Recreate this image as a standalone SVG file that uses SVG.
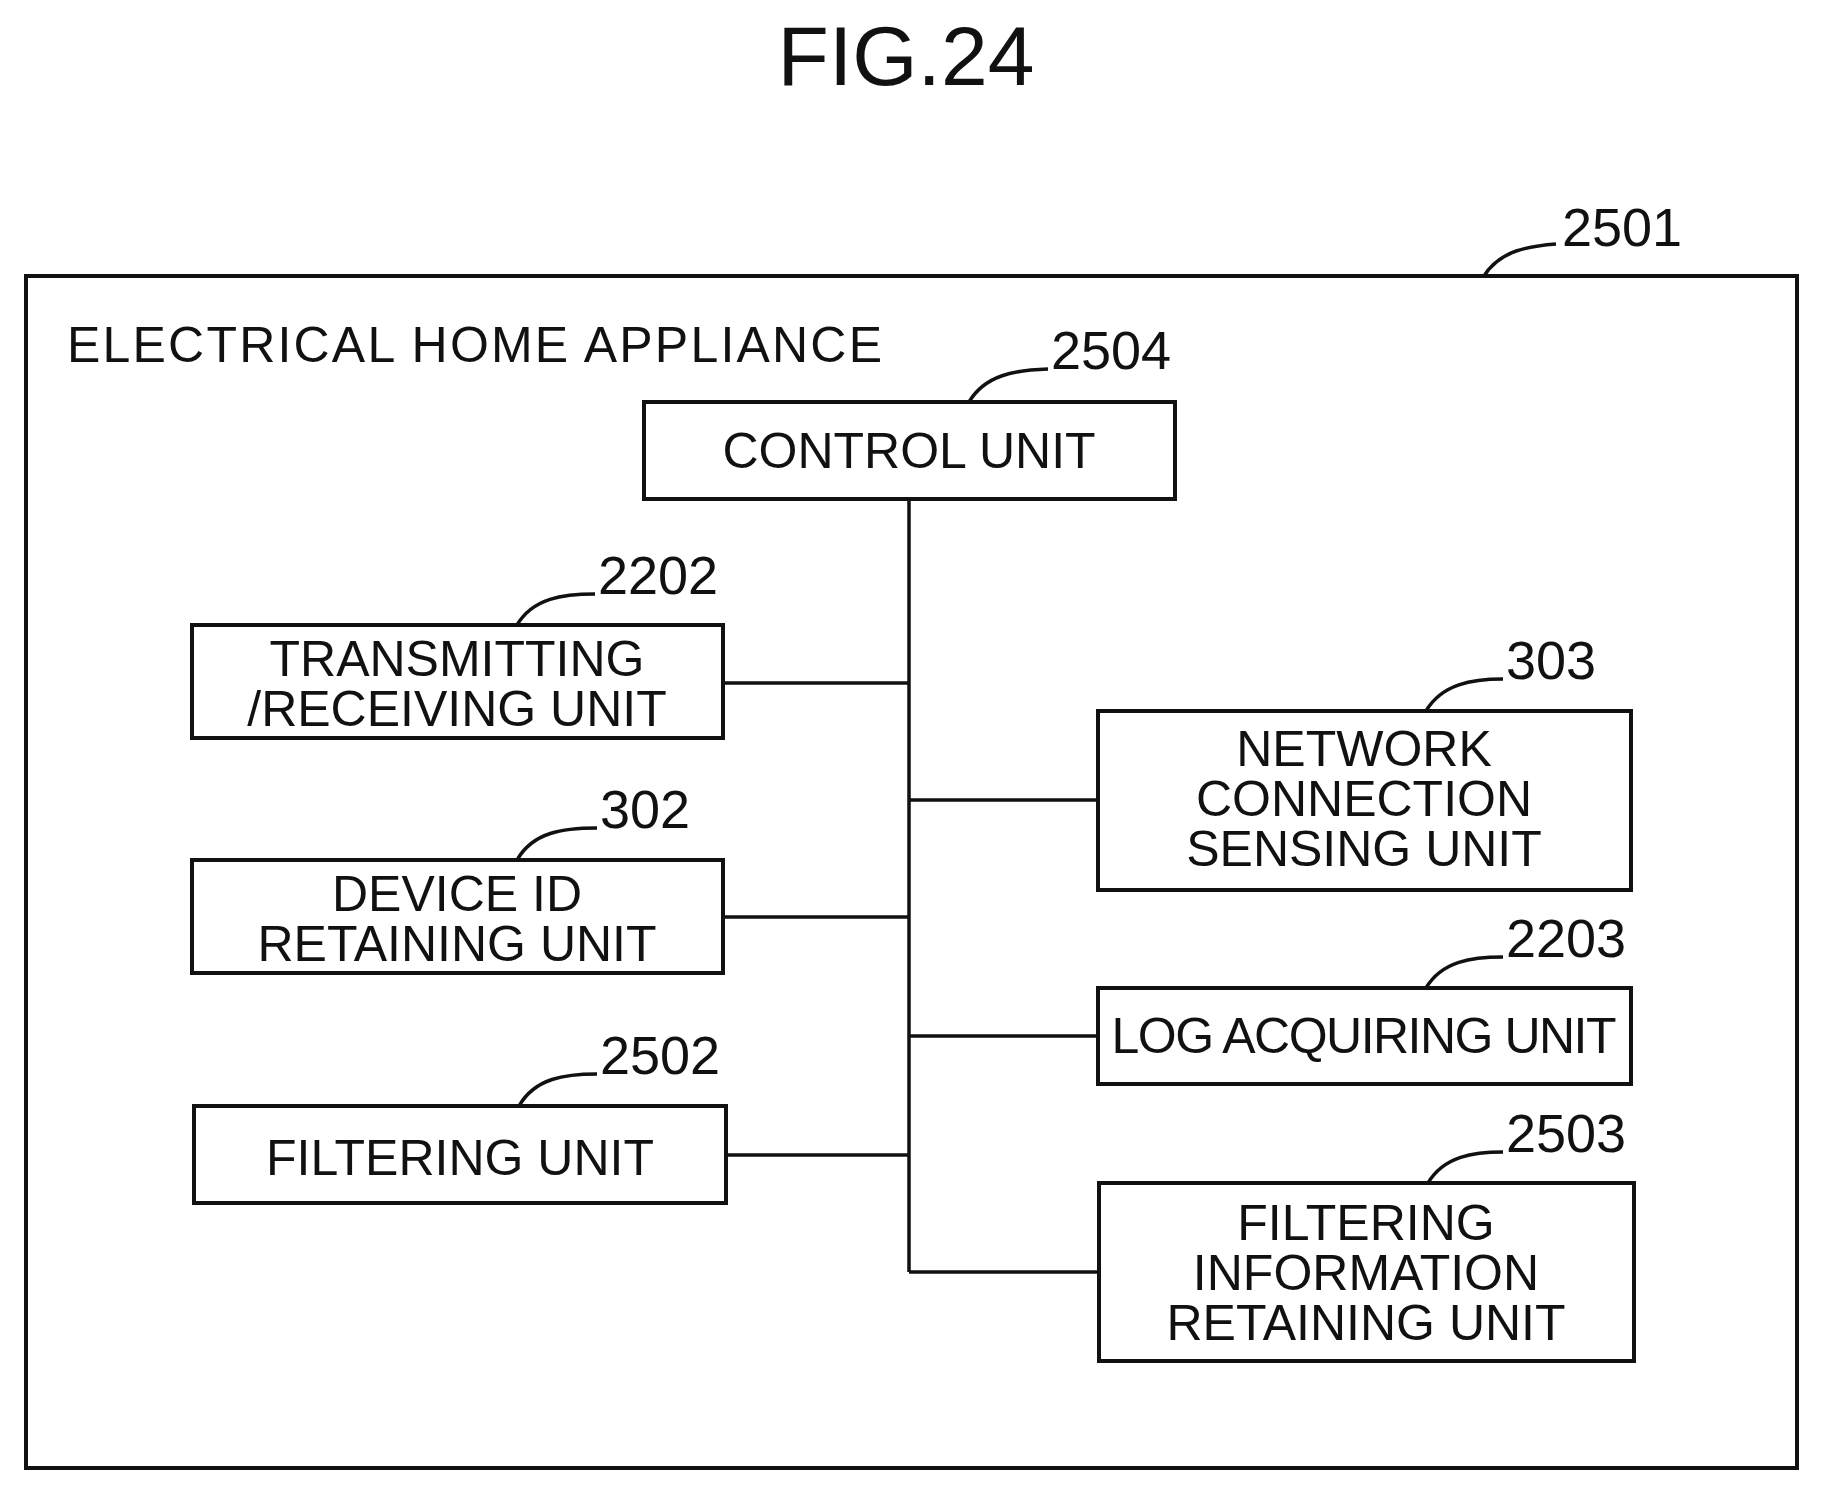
<svg xmlns="http://www.w3.org/2000/svg" width="1821" height="1501" viewBox="0 0 1821 1501">
<style>
text{font-family:"Liberation Sans",Arial,sans-serif;fill:#111;font-size:50px}
.n{text-anchor:middle}
.r{font-size:54px}
rect{fill:#fff;stroke:#111;stroke-width:4}
path{fill:none;stroke:#111;stroke-width:3.5}
</style>
<rect width="1821" height="1501" style="stroke:none"/>
<text x="906" y="85" class="n" style="font-size:84px">FIG.24</text>
<g id="appliance">
<rect x="26" y="276" width="1771" height="1192"/>
<text x="67" y="362" textLength="815">ELECTRICAL HOME APPLIANCE</text>
<path d="M1484 276 C1500 250,1530 246,1556 244"/>
<text x="1562" y="246" class="r">2501</text>
</g>
<g id="connectors">
<path d="M909 499 V1272 M723 683 H909 M723 917 H909 M726 1155 H909 M909 800 H1098 M909 1036 H1098 M909 1272 H1099"/>
</g>
<g id="control">
<rect x="644" y="402" width="531" height="97"/>
<text x="909" y="468" class="n">CONTROL UNIT</text>
<path d="M969 402 C985 375,1015 370,1048 369"/>
<text x="1051" y="369" class="r">2504</text>
</g>
<g id="trx">
<rect x="192" y="625" width="531" height="113"/>
<text x="457" y="676" class="n">TRANSMITTING</text>
<text x="457" y="726" class="n">/RECEIVING UNIT</text>
<path d="M517 625 C533 598,563 594,595 594"/>
<text x="598" y="594" class="r">2202</text>
</g>
<g id="deviceid">
<rect x="192" y="860" width="531" height="113"/>
<text x="457" y="911" class="n">DEVICE ID</text>
<text x="457" y="961" class="n">RETAINING UNIT</text>
<path d="M517 860 C533 832,563 828,597 828"/>
<text x="600" y="828" class="r">302</text>
</g>
<g id="filtering">
<rect x="194" y="1106" width="532" height="97"/>
<text x="460" y="1175" class="n">FILTERING UNIT</text>
<path d="M519 1106 C535 1078,565 1074,597 1074"/>
<text x="600" y="1074" class="r">2502</text>
</g>
<g id="network">
<rect x="1098" y="711" width="533" height="179"/>
<text x="1364" y="766" class="n">NETWORK</text>
<text x="1364" y="816" class="n">CONNECTION</text>
<text x="1364" y="866" class="n">SENSING UNIT</text>
<path d="M1426 711 C1442 684,1472 679,1503 679"/>
<text x="1506" y="679" class="r">303</text>
</g>
<g id="log">
<rect x="1098" y="988" width="533" height="96"/>
<text x="1364" y="1053" class="n" textLength="505">LOG ACQUIRING UNIT</text>
<path d="M1426 988 C1442 961,1472 957,1503 957"/>
<text x="1506" y="957" class="r">2203</text>
</g>
<g id="filterinfo">
<rect x="1099" y="1183" width="535" height="178"/>
<text x="1366" y="1240" class="n">FILTERING</text>
<text x="1366" y="1290" class="n">INFORMATION</text>
<text x="1366" y="1340" class="n">RETAINING UNIT</text>
<path d="M1428 1183 C1444 1156,1474 1152,1503 1152"/>
<text x="1506" y="1152" class="r">2503</text>
</g>
</svg>
